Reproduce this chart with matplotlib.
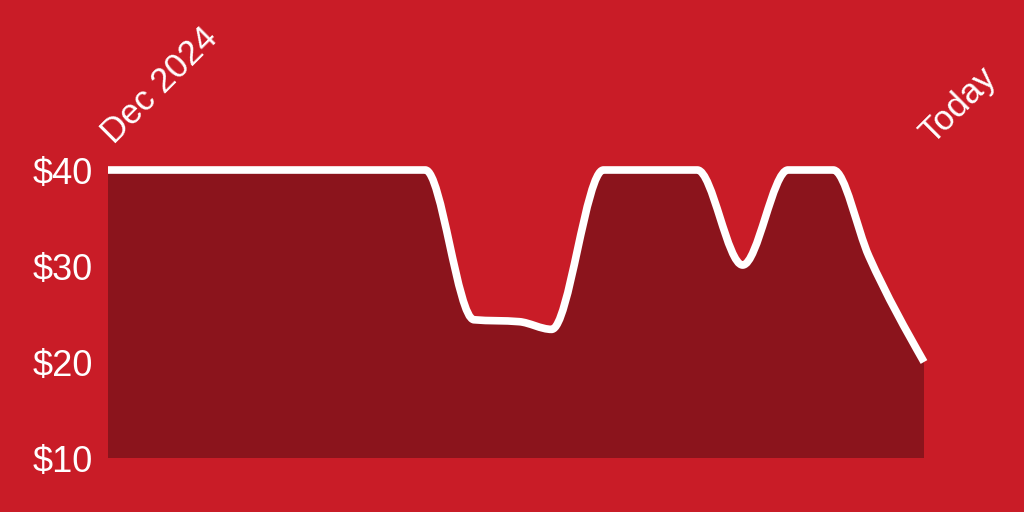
import matplotlib
matplotlib.use("Agg")
import matplotlib.pyplot as plt
import numpy as np
from matplotlib.path import Path
from matplotlib.patches import PathPatch

# ---- data (days since start of Dec 2024, price in $) ----
days = [0, 98, 113, 127, 137, 153, 182, 196, 210, 224, 235, 252]
price = [40, 40, 24.4, 24.2, 23.4, 40, 40, 30.1, 40, 40, 31, 20]
y_ticks = [10, 20, 30, 40]
y_labels = ['$10', '$20', '$30', '$40']
start_label = 'Dec 2024'
end_label = 'Today'

BG = '#C91C27'
FILL = '#8B141C'
LINE = '#FFFFFF'

plt.rcParams['font.family'] = ['Liberation Sans', 'DejaVu Sans']


def monotone_tangents(x, y):
    # same rule as d3.curveMonotoneX
    x = np.asarray(x, float)
    y = np.asarray(y, float)
    n = len(x)
    h = np.diff(x)
    s = np.diff(y) / h
    t = np.zeros(n)
    for i in range(1, n - 1):
        p = (s[i - 1] * h[i] + s[i] * h[i - 1]) / (h[i - 1] + h[i])
        t[i] = (np.sign(s[i - 1]) + np.sign(s[i])) * min(abs(s[i - 1]), abs(s[i]), 0.5 * abs(p))
    t[0] = (3 * s[0] - t[1]) / 2
    t[-1] = (3 * s[-1] - t[-2]) / 2
    return t


def curve_path(x, y, base=None):
    t = monotone_tangents(x, y)
    verts = [(x[0], y[0])]
    codes = [Path.MOVETO]
    for i in range(len(x) - 1):
        dx = (x[i + 1] - x[i]) / 3
        verts += [(x[i] + dx, y[i] + dx * t[i]),
                  (x[i + 1] - dx, y[i + 1] - dx * t[i + 1]),
                  (x[i + 1], y[i + 1])]
        codes += [Path.CURVE4] * 3
    if base is not None:
        verts += [(x[-1], base), (x[0], base), (x[0], y[0])]
        codes += [Path.LINETO, Path.LINETO, Path.CLOSEPOLY]
    return Path(verts, codes)


fig = plt.figure(figsize=(10.24, 5.12), dpi=100)
fig.patch.set_facecolor(BG)
ax = fig.add_axes([108 / 1024, 54 / 512, 816 / 1024, 288 / 512])
ax.set_facecolor(BG)

ax.set_xlim(days[0], days[-1])
ax.set_ylim(10, 40)

ax.add_patch(PathPatch(curve_path(days, price, base=10), facecolor=FILL,
                       edgecolor='none', zorder=2))
ax.add_patch(PathPatch(curve_path(days, price), facecolor='none', edgecolor=LINE,
                       lw=5.5, capstyle='butt', joinstyle='round', zorder=3,
                       clip_on=False))

ax.set_yticks(y_ticks)
ax.set_yticklabels(y_labels)
ax.tick_params(axis='y', length=0, pad=11, labelsize=26, labelcolor='white')
ax.set_xticks([])
for sp in ax.spines.values():
    sp.set_visible(False)

# rotated start / end labels
for xv, txt, dx in [(days[0], start_label, 4), (days[-1], end_label, 6)]:
    ax.annotate(txt, xy=(xv, 40), xytext=(dx, 18), textcoords='offset points',
                rotation=45, rotation_mode='anchor', ha='left', va='baseline',
                fontsize=25, color='white', annotation_clip=False)

fig.savefig('out.png', dpi=100, facecolor=BG)
